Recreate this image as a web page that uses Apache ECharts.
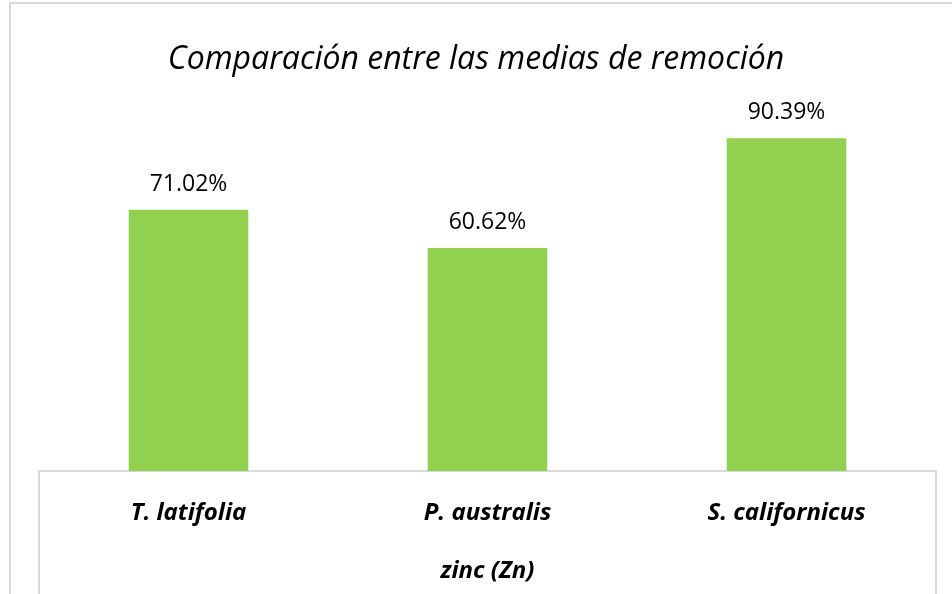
<!DOCTYPE html>
<html>
<head>
<meta charset="utf-8">
<script src="https://cdn.jsdelivr.net/npm/echarts@6/dist/echarts.min.js"></script>
<style>
  html, body { margin: 0; padding: 0; background: #fff; }
  #chart { width: 952px; height: 594px; }
</style>
</head>
<body>
<div id="chart"></div>
<script>
// data
const categories = ['T. latifolia', 'P. australis', 'S. californicus']
const removal = [71.02, 60.62, 90.39]
const axisName = 'zinc (Zn)'
const titleText = 'Comparación entre las medias de remoción'

const font = 'Open Sans'
const chart = echarts.init(document.getElementById('chart'))

chart.setOption({
    backgroundColor: '#fff',
    animation: false,
    title: {
        text: titleText,
        left: 'center',
        top: 39,
        textStyle: {
            fontFamily: font,
            fontStyle: 'italic',
            fontWeight: 'normal',
            fontSize: 32,
            color: '#000',
        },
    },
    grid: {
        left: 39,
        right: 16,
        top: 103,
        bottom: 123,
    },
    xAxis: {
        type: 'category',
        data: categories,
        axisLine: { lineStyle: { color: '#d9d9d9', width: 2 } },
        axisTick: { show: false },
        axisLabel: {
            margin: 30,
            fontFamily: font,
            fontStyle: 'italic',
            fontWeight: 'bold',
            fontSize: 24,
            color: '#000',
        },
        name: axisName,
        nameLocation: 'middle',
        nameGap: 88,
        nameTextStyle: {
            fontFamily: font,
            fontStyle: 'italic',
            fontWeight: 'bold',
            fontSize: 24,
            color: '#000',
        },
    },
    yAxis: {
        type: 'value',
        min: 0,
        max: 100,
        show: false,
        splitLine: { show: false },
    },
    series: [{
        type: 'bar',
        data: removal,
        barWidth: '40%',
        itemStyle: { color: '#92d050' },
        label: {
            show: true,
            position: 'top',
            distance: 14,
            fontFamily: font,
            fontSize: 23,
            color: '#000',
            formatter: (p) => p.value.toFixed(2) + '%',
        },
    }],
    graphic: [
        // outer chart border
        {
            type: 'rect',
            shape: { x: 10, y: 3, width: 950, height: 620 },
            style: { fill: null, stroke: '#d9d9d9', lineWidth: 2 },
            silent: true,
        },
        // box under the category axis
        {
            type: 'polyline',
            shape: { points: [[39, 600], [39, 471], [936, 471], [936, 600]] },
            style: { fill: null, stroke: '#d9d9d9', lineWidth: 2 },
            silent: true,
        },
    ],
})
</script>
</body>
</html>
